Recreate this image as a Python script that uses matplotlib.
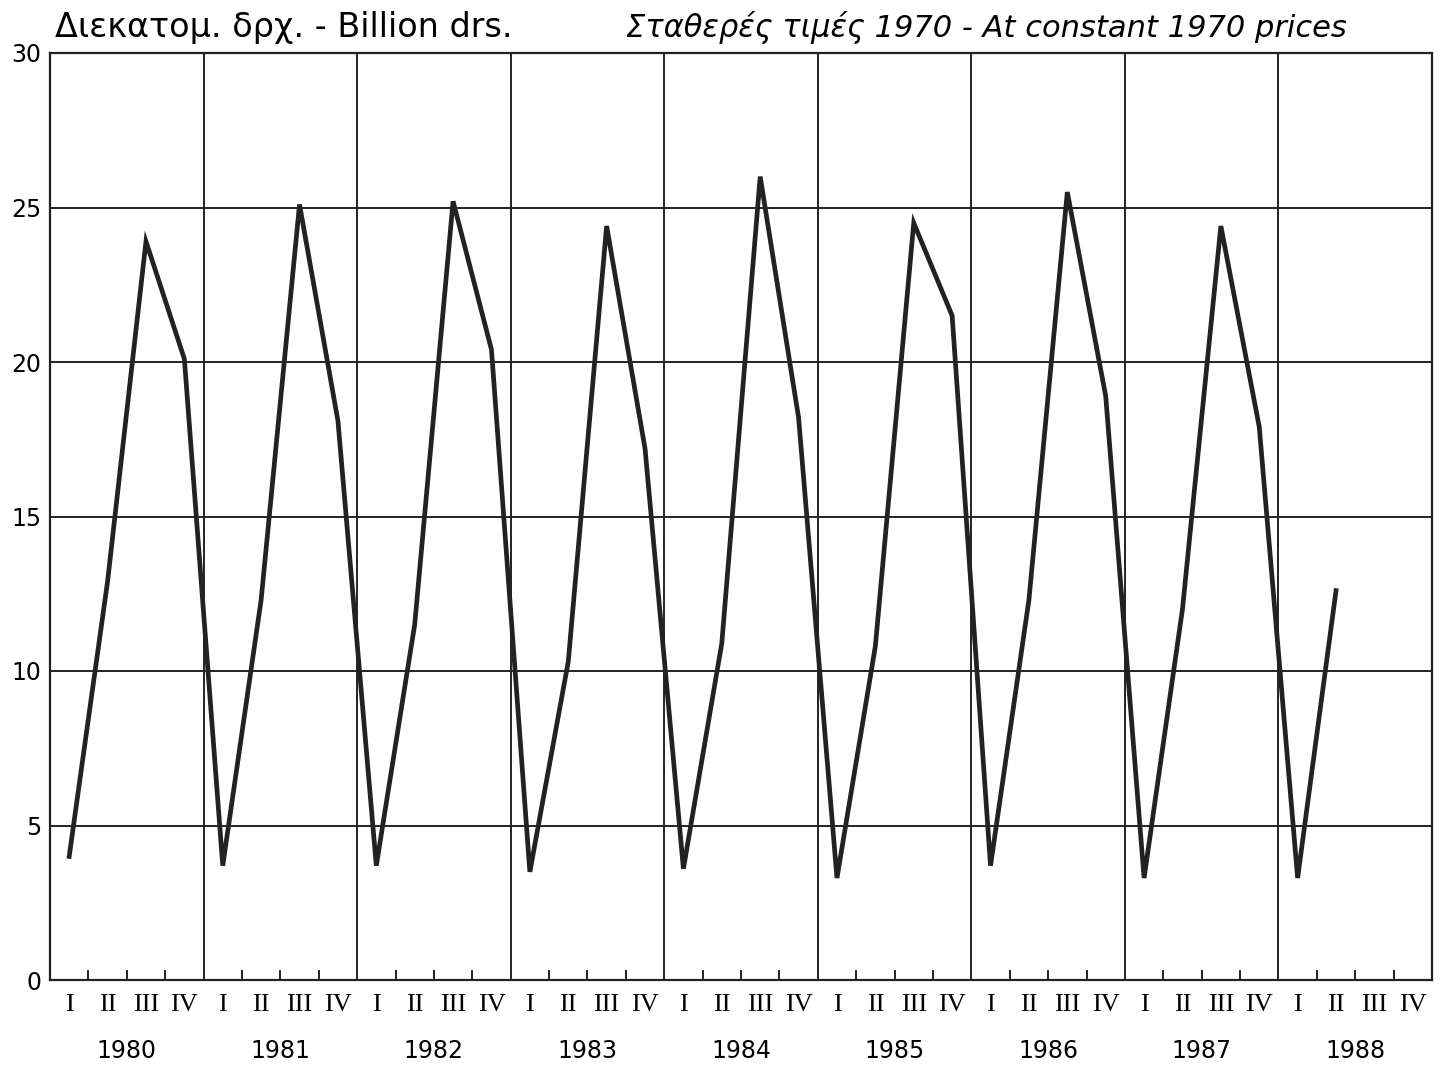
import matplotlib
matplotlib.use("Agg")
import matplotlib.pyplot as plt
import numpy as np

years = ["1980", "1981", "1982", "1983", "1984", "1985", "1986", "1987", "1988"]
quarter_labels = ["I", "II", "III", "IV"]
values = [
    4.0, 12.9, 23.9, 20.1,   # 1980
    3.7, 12.3, 25.1, 18.1,   # 1981
    3.7, 11.5, 25.2, 20.4,   # 1982
    3.5, 10.3, 24.4, 17.2,   # 1983
    3.6, 10.9, 26.0, 18.2,   # 1984
    3.3, 10.8, 24.5, 21.5,   # 1985
    3.7, 12.3, 25.5, 18.9,   # 1986
    3.3, 12.0, 24.4, 17.9,   # 1987
    3.3, 12.6,               # 1988
]
yticks = [0, 5, 10, 15, 20, 25, 30]
left_title = "Διεκατομ. δρχ. - Billion drs."
right_title = "Σταθερές τιμές 1970 - At constant 1970 prices"

plt.rcParams['font.family'] = ['DejaVu Sans']
fig = plt.figure(figsize=(14.43, 10.71), dpi=100)
ax = fig.add_axes([50/1443, 91/1071, 1382/1443, 927/1071])

n_q = len(years) * 4
x = np.arange(len(values)) + 0.5
ax.plot(x, values, color="#222222", lw=3.4, solid_joinstyle="miter", zorder=3)

ax.set_xlim(0, n_q)
ax.set_ylim(0, 30)

# grid
for yv in yticks[1:-1]:
    ax.axhline(yv, color="#222222", lw=1.4, zorder=1)
for k in range(1, len(years)):
    ax.axvline(4 * k, color="#222222", lw=1.4, zorder=1)

for s in ax.spines.values():
    s.set_color("#222222")
    s.set_linewidth(1.6)

ax.set_yticks(yticks)
ax.set_yticklabels([str(v) for v in yticks], fontsize=17)
ax.tick_params(axis="y", length=0, pad=6)

ax.set_xticks(np.arange(n_q) + 0.5)
ax.set_xticklabels(quarter_labels * len(years), fontsize=19, family="Liberation Serif")
ax.tick_params(axis="x", which="major", length=0, pad=10)
minor = [i for i in range(1, n_q) if i % 4 != 0]
ax.set_xticks(minor, minor=True)
ax.tick_params(axis="x", which="minor", direction="in", length=7, width=1.4, color="#222222")

for k, yr in enumerate(years):
    ax.text(4 * k + 2, -0.077, yr, transform=ax.get_xaxis_transform(),
            ha="center", va="center", fontsize=17)

fig.text(55/1443, 1 - 27/1071, left_title, ha="left", va="center", fontsize=24)
fig.text(1347/1443, 1 - 27/1071, right_title, ha="right", va="center", fontsize=22, style="italic")

fig.savefig("out.png", dpi=100, facecolor="white")
